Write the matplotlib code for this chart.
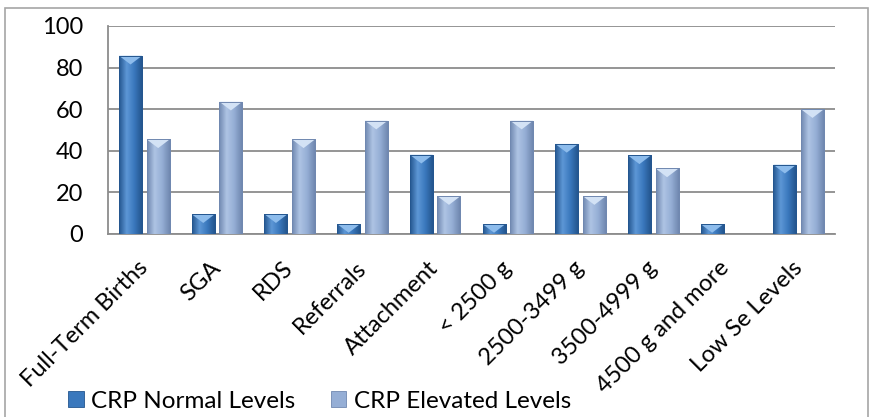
import matplotlib
matplotlib.use("Agg")
import matplotlib.pyplot as plt
import numpy as np
from matplotlib.patches import Rectangle, Polygon
from matplotlib.colors import LinearSegmentedColormap

categories = ["Full-Term Births", "SGA", "RDS", "Referrals", "Attachment",
              "< 2500 g", "2500-3499 g", "3500-4999 g", "4500 g and more", "Low Se Levels"]
crp_normal = [85.7, 9.5, 9.5, 4.8, 38.1, 4.8, 43.3, 37.8, 4.8, 33.3]
crp_elevated = [45.5, 63.6, 45.5, 54.5, 18.2, 54.5, 18.2, 31.5, 0, 60.0]
series_names = ["CRP Normal Levels", "CRP Elevated Levels"]
y_ticks = [0, 20, 40, 60, 80, 100]

plt.rcParams['font.family'] = ['Lato', 'DejaVu Sans']

fig = plt.figure(figsize=(8.7, 4.17), dpi=100)
ax = fig.add_axes([108/870, 1-234/417, (835-108)/870, (234-26)/417])

x = np.arange(len(categories))
w = 0.316
off = 0.19
styles = [
    dict(base="#3a78bd", edge="#24568f", light="#5d97d6", tri="#8dbcec"),
    dict(base="#95aed5", edge="#7088b0", light="#aec4e4", tri="#d3e2f5"),
]
all_bars = []
for i, (vals, st) in enumerate(zip([crp_normal, crp_elevated], styles)):
    bars = ax.bar(x + (-off if i == 0 else off), vals, width=w, color=st["base"],
                  edgecolor=st["edge"], linewidth=0.6, zorder=3, label=series_names[i])
    all_bars.append(bars)
    cmap = LinearSegmentedColormap.from_list("g%d" % i, [st["edge"], st["light"], st["base"], st["edge"]])
    grad = np.linspace(0, 1, 64).reshape(1, -1)
    for p in bars:
        h = p.get_height()
        if h <= 0:
            continue
        x0 = p.get_x(); x1 = x0 + p.get_width()
        im = ax.imshow(grad, extent=[x0, x1, 0, h], aspect='auto', cmap=cmap,
                       zorder=3.5, interpolation='bilinear')
        im.set_clip_path(p)
        # bevel triangle on top
        th = min(4.2, h)
        tri = Polygon([[x0, h], [x1, h], [(x0 + x1) / 2, h - th]], closed=True,
                      facecolor=st["tri"], edgecolor='none', zorder=4)
        ax.add_patch(tri)
        ax.add_patch(Rectangle((x0, 0), x1 - x0, h, facecolor='none',
                               edgecolor=st["edge"], linewidth=0.7, zorder=4.5))

ax.set_xlim(-0.5, len(categories) - 0.5)
ax.set_ylim(0, 100)
ax.set_yticks(y_ticks)
ax.yaxis.grid(True, color="#8c8c8c", linewidth=1.3, zorder=0)
ax.set_axisbelow(True)
for s in ["top", "right"]:
    ax.spines[s].set_visible(False)
ax.spines["left"].set_color("#8c8c8c")
ax.spines["bottom"].set_color("#8c8c8c")
ax.spines["left"].set_linewidth(1.3)
ax.spines["bottom"].set_linewidth(1.3)
ax.tick_params(axis='y', length=0, pad=18, labelsize=17)
ax.set_xticks(x)
ax.set_xticklabels(categories, rotation=45, ha='right', rotation_mode='anchor', fontsize=17)
ax.tick_params(axis='x', length=0, pad=22)
for lab in ax.get_xticklabels():
    lab.set_va('center')

leg = fig.legend(handles=[all_bars[0], all_bars[1]], labels=series_names,
                 loc='center left', bbox_to_anchor=(68/870, 1-401/417), ncol=2,
                 frameon=False, fontsize=17.5, handlelength=0.65, handleheight=0.65,
                 handletextpad=0.3, columnspacing=1.45, borderaxespad=0, borderpad=0)

fig.add_artist(Rectangle((5/870, -0.05), 863/870, 1.05 - 8/417, transform=fig.transFigure,
                         facecolor='none', edgecolor='#a6a6a6', linewidth=1.2))

fig.savefig("out.png", dpi=100)
